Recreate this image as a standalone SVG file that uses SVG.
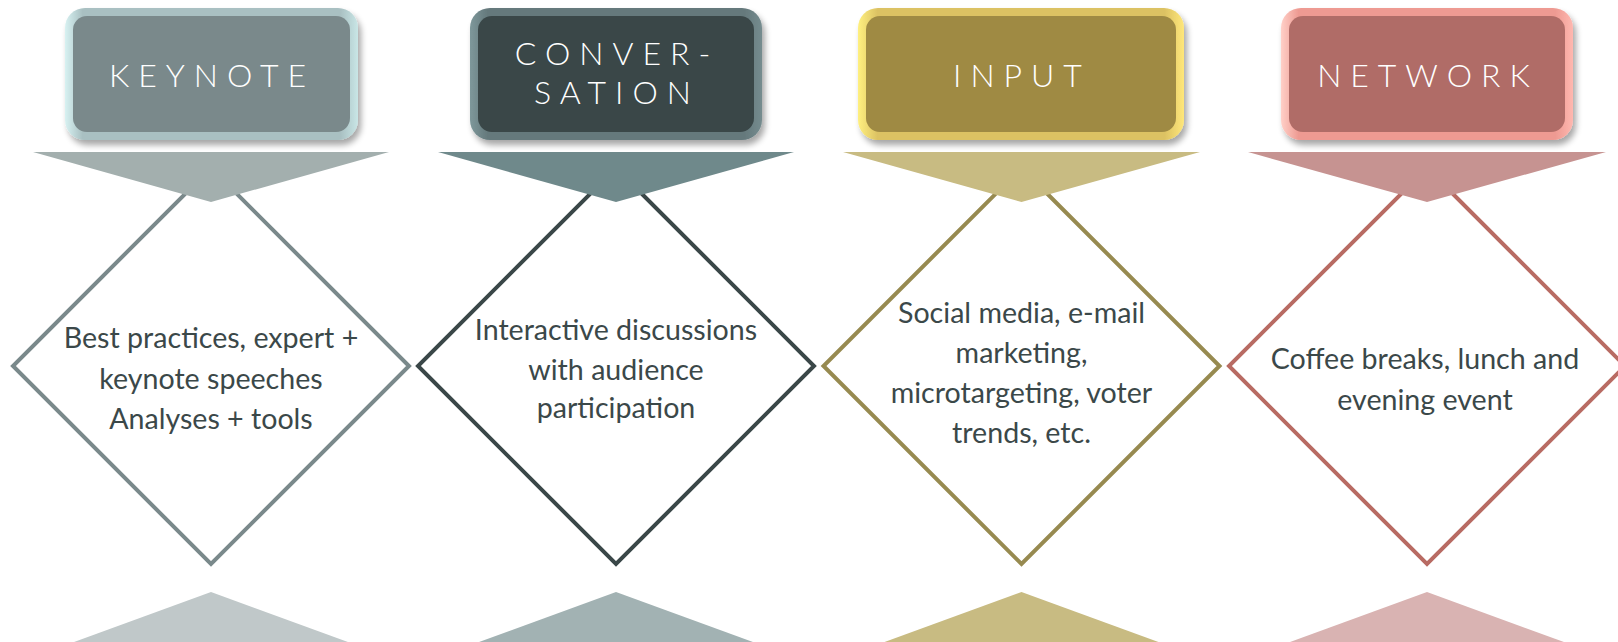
<svg xmlns="http://www.w3.org/2000/svg" width="1618" height="642" viewBox="0 0 1618 642">
<defs>
<style>
.dia{fill:#fff;stroke-width:4;stroke-linejoin:miter}
.body{font-family:Lato,"Open Sans","Liberation Sans",sans-serif;font-size:28.6px;font-weight:400;fill:#3B4849;text-anchor:middle}
.head{font-family:Lato,"Open Sans","Liberation Sans",sans-serif;font-size:32px;font-weight:300;fill:#fff;text-anchor:middle;letter-spacing:9px}
</style>
<filter id="sh" x="-10%" y="-10%" width="125%" height="130%">
<feGaussianBlur in="SourceAlpha" stdDeviation="3"/>
<feOffset dx="3" dy="5" result="b"/>
<feComponentTransfer><feFuncA type="linear" slope="0.35"/></feComponentTransfer>
<feMerge><feMergeNode/><feMergeNode in="SourceGraphic"/></feMerge>
</filter>
<linearGradient id="gK" x1="0" x2="1" y1="0" y2="0">
<stop offset="0" stop-color="#D8F2F2"/><stop offset="0.06" stop-color="#A9C0C2"/><stop offset="0.94" stop-color="#A9C0C2"/><stop offset="1" stop-color="#C9E6E6"/>
</linearGradient>
<linearGradient id="gC" x1="0" x2="1" y1="0" y2="0">
<stop offset="0" stop-color="#7E989B"/><stop offset="0.06" stop-color="#65797C"/><stop offset="0.94" stop-color="#65797C"/><stop offset="1" stop-color="#758C8F"/>
</linearGradient>
<linearGradient id="gI" x1="0" x2="1" y1="0" y2="0">
<stop offset="0" stop-color="#FFF080"/><stop offset="0.06" stop-color="#DCC263"/><stop offset="0.94" stop-color="#DCC263"/><stop offset="1" stop-color="#FFE77A"/>
</linearGradient>
<linearGradient id="gN" x1="0" x2="1" y1="0" y2="0">
<stop offset="0" stop-color="#FFD0C8"/><stop offset="0.06" stop-color="#EE9A92"/><stop offset="0.94" stop-color="#EE9A92"/><stop offset="1" stop-color="#FFB8B0"/>
</linearGradient>
</defs>
<rect width="1618" height="642" fill="#fff"/>

<g id="diamond-keynote">
<polygon class="dia" stroke="#7A898B" points="211,168 409,366 211,564 13,366"/>
<text class="body" x="211" y="348">Best practices, expert +</text>
<text class="body" x="211" y="389">keynote speeches</text>
<text class="body" x="211" y="429">Analyses + tools</text>
</g>
<g id="diamond-conversation">
<polygon class="dia" stroke="#3A4748" points="616,168 814,366 616,564 418,366"/>
<text class="body" x="616" y="340">Interactive discussions</text>
<text class="body" x="616" y="380">with audience</text>
<text class="body" x="616" y="418">participation</text>
</g>
<g id="diamond-input">
<polygon class="dia" stroke="#978A50" points="1021.5,168 1219.5,366 1021.5,564 823.5,366"/>
<text class="body" x="1021.5" y="323">Social media, e-mail</text>
<text class="body" x="1021.5" y="363">marketing,</text>
<text class="body" x="1021.5" y="403">microtargeting, voter</text>
<text class="body" x="1021.5" y="443">trends, etc.</text>
</g>
<g id="diamond-network">
<polygon class="dia" stroke="#B86B63" points="1427,168 1625,366 1427,564 1229,366"/>
<text class="body" x="1425" y="369">Coffee breaks, lunch and</text>
<text class="body" x="1425" y="410">evening event</text>
</g>

<g id="connectors">
<polygon fill="#A3AFAE" points="33,152 389,152 211,202"/>
<polygon fill="#6F898B" points="438,152 794,152 616,202"/>
<polygon fill="#C8BB82" points="843,152 1200,152 1021.5,202"/>
<polygon fill="#C69391" points="1248,152 1606,152 1427,202"/>
<polygon fill="#C0C8C9" points="211,592 389,657 33,657"/>
<polygon fill="#A2B2B3" points="616,592 794,657 438,657"/>
<polygon fill="#C8BB82" points="1021.5,592 1199.5,657 843.5,657"/>
<polygon fill="#D9B3B2" points="1427,592 1605,657 1249,657"/>
</g>

<g id="header-keynote">
<rect x="65" y="8" width="293" height="132" rx="20" fill="url(#gK)" filter="url(#sh)"/>
<rect x="73" y="16" width="277" height="116" rx="14" fill="#7A898B"/>
<text class="head" x="212" y="87">KEYNOTE</text>
</g>
<g id="header-conversation">
<rect x="470" y="8" width="292" height="132" rx="20" fill="url(#gC)" filter="url(#sh)"/>
<rect x="478" y="16" width="276" height="116" rx="14" fill="#3A4748"/>
<text class="head" x="617" y="65">CONVER-</text>
<text class="head" x="617" y="104">SATION</text>
</g>
<g id="header-input">
<rect x="858" y="8" width="326" height="132" rx="20" fill="url(#gI)" filter="url(#sh)"/>
<rect x="866" y="16" width="310" height="116" rx="14" fill="#9F8A43"/>
<text class="head" x="1022" y="87">INPUT</text>
</g>
<g id="header-network">
<rect x="1281" y="8" width="292" height="132" rx="20" fill="url(#gN)" filter="url(#sh)"/>
<rect x="1289" y="16" width="276" height="116" rx="14" fill="#B06C67"/>
<text class="head" x="1428" y="87">NETWORK</text>
</g>
</svg>
